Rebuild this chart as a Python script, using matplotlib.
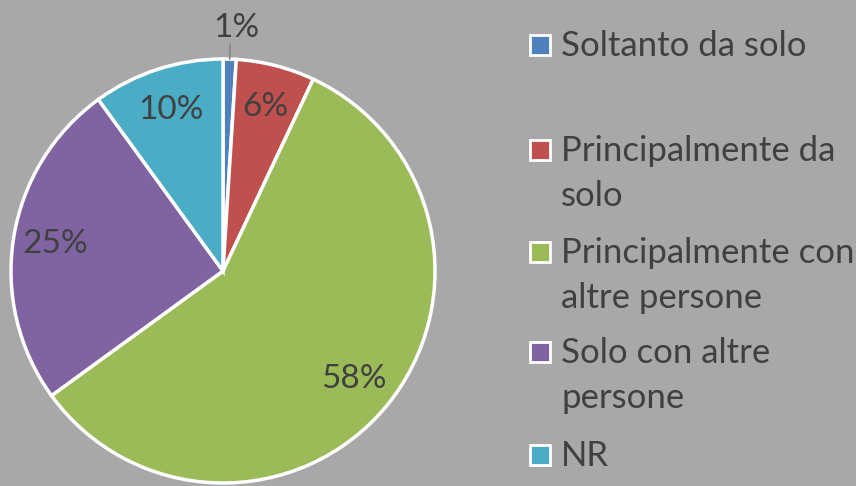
import numpy as np
import matplotlib.pyplot as plt
from matplotlib.patches import Rectangle

# ====================== 数据 ======================
categories = ["Soltanto da solo", "Principalmente da\nsolo",
              "Principalmente con\naltre persone", "Solo con altre\npersone", "NR"]
values = [1, 6, 58, 25, 10]
pct_labels = ["1%", "6%", "58%", "25%", "10%"]
colors = ["#4f81bd", "#c0504d", "#9bbb59", "#8064a2", "#4bacc6"]

TEXT_COLOR = "#404040"
BG_COLOR = "#a8a8a8"
plt.rcParams['font.family'] = ['Lato', 'DejaVu Sans']

fig = plt.figure(figsize=(8.56, 4.86), dpi=100)
fig.patch.set_facecolor(BG_COLOR)

ax = fig.add_axes([11 / 856, 3 / 486, 424 / 856, 424 / 486])
wedges, _ = ax.pie(values, colors=colors, startangle=90, counterclock=False,
                   wedgeprops=dict(edgecolor="white", linewidth=2.5))
ax.set_xlim(-1, 1)
ax.set_ylim(-1, 1)
ax.set_aspect("equal")

# 百分比标签
for w, lab in zip(wedges, pct_labels):
    ang = np.deg2rad((w.theta1 + w.theta2) / 2)
    if lab == "1%":
        x, y = np.cos(ang), np.sin(ang)
        ax.plot([x * 1.0, x * 1.07], [y * 1.0, y * 1.07], color="#7f7f7f", lw=1, clip_on=False)
        ax.text(0.065, 1.145, lab, ha="center", va="center", fontsize=24,
                color=TEXT_COLOR, clip_on=False)
    else:
        r = 0.8
        ax.text(r * np.cos(ang), r * np.sin(ang), lab, ha="center", va="center",
                fontsize=24, color=TEXT_COLOR)

# 图例
entry_y = [45, 150, 252, 352, 455]
for cat, col, yy in zip(categories, colors, entry_y):
    fig.patches.append(Rectangle((530 / 856, 1 - (yy + 10) / 486), 20 / 856, 20 / 486,
                                 transform=fig.transFigure, facecolor=col,
                                 edgecolor="white", linewidth=2))
    fig.text(561 / 856, 1 - (yy - 15) / 486, cat, ha="left", va="top", fontsize=25,
             color=TEXT_COLOR, linespacing=1.5)

fig.savefig("out.png", dpi=100, facecolor=fig.get_facecolor())
